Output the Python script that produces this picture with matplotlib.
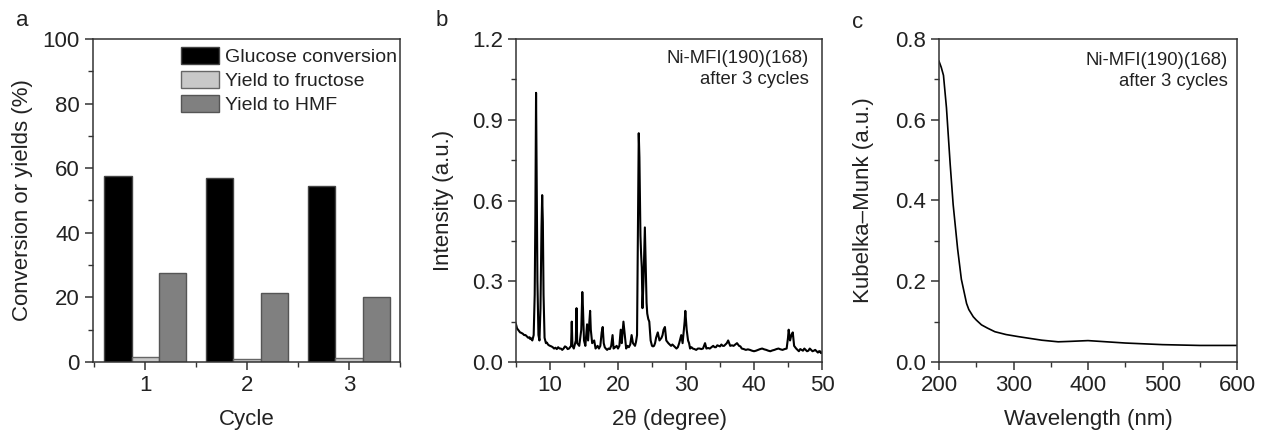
import matplotlib
matplotlib.use("Agg")
import matplotlib.pyplot as plt
from matplotlib.ticker import MultipleLocator, FormatStrFormatter

plt.rcParams['font.family'] = ['Liberation Sans', 'DejaVu Sans']

# panel a: catalyst recycling
cycles = [1, 2, 3]
glucose_conv = [57.7, 57.1, 54.6]
fructose_yield = [1.7, 0.9, 1.1]
hmf_yield = [27.7, 21.5, 20.0]

# panel b: XRD after 3 cycles
xrd_2theta = [5.0, 5.15, 5.3, 5.45, 5.6, 5.8, 6.0, 6.2, 6.4, 6.6, 6.8, 7.0, 7.1, 7.25, 7.4, 7.6,
              7.75, 7.85, 7.95, 8.05, 8.15, 8.3, 8.45, 8.6, 8.75, 8.85, 8.95, 9.05, 9.2, 9.4,
              9.55, 9.7, 9.85, 10.0, 10.2, 10.4, 10.6, 10.8, 11.0, 11.2, 11.4, 11.6, 11.8,
              12.0, 12.2, 12.4, 12.6, 12.8, 13.1, 13.2, 13.3, 13.5, 13.8, 13.9, 14.0, 14.3,
              14.6, 14.75, 14.85, 15.0, 15.2, 15.45, 15.6, 15.9, 16.0, 16.2, 16.5, 16.7, 16.85,
              17.0, 17.2, 17.4, 17.6, 17.75, 17.9, 18.05, 18.2, 18.4, 18.6, 18.8, 19.0, 19.2,
              19.35, 19.6, 19.8, 20.0, 20.2, 20.4, 20.55, 20.8, 21.0, 21.2, 21.4, 21.6, 21.8,
              22.0, 22.2, 22.35, 22.5, 22.65, 22.8, 22.95, 23.05, 23.15, 23.3, 23.4, 23.5,
              23.6, 23.75, 23.95, 24.1, 24.2, 24.3, 24.45, 24.6, 24.8, 25.0, 25.15, 25.3, 25.45,
              25.6, 25.85, 26.1, 26.25, 26.4, 26.55, 26.7, 26.9, 27.1, 27.25, 27.4, 27.6, 27.8,
              28.0, 28.2, 28.4, 28.6, 28.8, 29.0, 29.3, 29.5, 29.8, 29.9, 30.1, 30.3, 30.45,
              30.6, 30.8, 31.0, 31.25, 31.5, 31.75, 32.0, 32.25, 32.5, 32.8, 33.0, 33.25, 33.5,
              33.75, 34.0, 34.2, 34.4, 34.6, 34.8, 35.0, 35.2, 35.4, 35.6, 35.8, 36.0, 36.2,
              36.35, 36.5, 36.75, 37.0, 37.25, 37.5, 37.8, 38.0, 38.2, 38.5, 38.8, 39.1, 39.4,
              39.7, 40.0, 40.3, 40.6, 40.9, 41.2, 41.5, 41.8, 42.1, 42.4, 42.7, 43.0, 43.3,
              43.6, 43.9, 44.2, 44.5, 44.8, 45.0, 45.1, 45.3, 45.5, 45.7, 45.9, 46.05, 46.2,
              46.4, 46.6, 46.8, 47.0, 47.2, 47.4, 47.6, 47.8, 48.0, 48.2, 48.4, 48.6, 48.8,
              49.0, 49.2, 49.4, 49.55, 49.7, 49.85, 50.0]
xrd_int = [0.14, 0.125, 0.12, 0.115, 0.11, 0.108, 0.105, 0.10, 0.10, 0.095, 0.09, 0.092, 0.085, 0.088, 0.08, 0.10,
           0.25, 0.55, 1.00, 0.66, 0.30, 0.10, 0.08, 0.20, 0.50, 0.62, 0.52, 0.25, 0.09, 0.07,
           0.072, 0.065, 0.062, 0.06, 0.058, 0.055, 0.05, 0.053, 0.048, 0.055, 0.05, 0.05, 0.045,
           0.05, 0.058, 0.055, 0.048, 0.05, 0.06, 0.15, 0.06, 0.05, 0.08, 0.20, 0.07, 0.06,
           0.12, 0.26, 0.20, 0.08, 0.06, 0.14, 0.08, 0.19, 0.12, 0.07, 0.08, 0.05, 0.055,
           0.06, 0.05, 0.06, 0.11, 0.13, 0.07, 0.055, 0.05, 0.045, 0.05, 0.048, 0.06, 0.10,
           0.05, 0.055, 0.06, 0.05, 0.06, 0.12, 0.07, 0.15, 0.10, 0.05, 0.06, 0.055, 0.065,
           0.10, 0.07, 0.065, 0.06, 0.075, 0.10, 0.55, 0.85, 0.76, 0.47, 0.40, 0.35,
           0.20, 0.30, 0.50, 0.33, 0.22, 0.18, 0.16, 0.15, 0.08, 0.06, 0.058, 0.06, 0.07,
           0.09, 0.11, 0.08, 0.085, 0.09, 0.10, 0.12, 0.13, 0.08, 0.075, 0.07, 0.065, 0.06,
           0.065, 0.06, 0.055, 0.05, 0.055, 0.07, 0.10, 0.07, 0.15, 0.19, 0.12, 0.08, 0.07,
           0.05, 0.055, 0.05, 0.048, 0.045, 0.05, 0.05, 0.048, 0.05, 0.07, 0.05, 0.052, 0.05,
           0.055, 0.06, 0.055, 0.055, 0.062, 0.06, 0.058, 0.065, 0.06, 0.06, 0.065, 0.07, 0.08,
           0.07, 0.06, 0.062, 0.06, 0.065, 0.07, 0.06, 0.058, 0.05, 0.048, 0.045, 0.047, 0.045,
           0.042, 0.04, 0.042, 0.045, 0.048, 0.05, 0.047, 0.045, 0.042, 0.04, 0.043, 0.045, 0.048,
           0.05, 0.047, 0.045, 0.048, 0.05, 0.09, 0.12, 0.08, 0.10, 0.11, 0.06, 0.055, 0.05,
           0.045, 0.04, 0.048, 0.045, 0.042, 0.05, 0.045, 0.04, 0.042, 0.05, 0.045, 0.04, 0.042,
           0.045, 0.04, 0.035, 0.04, 0.04, 0.033, 0.035]

# panel c: UV-vis (Kubelka-Munk)
wavelength = [200, 203, 206, 210, 215, 219, 225, 230, 237, 240, 246, 250, 257, 265, 275,
              290, 306, 320, 338, 360, 375, 400, 425, 450, 500, 550, 600]
km = [0.745, 0.73, 0.71, 0.63, 0.49, 0.39, 0.28, 0.205, 0.145, 0.13, 0.112, 0.104, 0.092, 0.084, 0.075,
      0.068, 0.063, 0.059, 0.054, 0.050, 0.051, 0.053, 0.050, 0.047, 0.043, 0.041, 0.041]

label_text = "Ni-MFI(190)(168)\nafter 3 cycles"

txt = '#222222'
fs = 16
W, H = 1263, 436
fig = plt.figure(figsize=(W / 100, H / 100), dpi=100)

def add_ax(left_px, width_px):
    ax = fig.add_axes([left_px / W, (H - 362) / H, width_px / W, 323 / H])
    for s in ax.spines.values():
        s.set_linewidth(1.1)
        s.set_color('#333333')
    ax.tick_params(which='both', direction='out', labelsize=fs, colors='#333333', labelcolor=txt)
    ax.tick_params(which='major', length=6, width=1.1)
    ax.tick_params(which='minor', length=3.5, width=1.0)
    return ax

# ---- a ----
ax1 = add_ax(93, 307)
w = 0.265
ax1.bar([x - w for x in cycles], glucose_conv, w, color='black', edgecolor='#444444', lw=1,
        label='Glucose conversion')
ax1.bar(cycles, fructose_yield, w, color='#c8c8c8', edgecolor='#666666', lw=1,
        label='Yield to fructose')
ax1.bar([x + w for x in cycles], hmf_yield, w, color='#808080', edgecolor='#555555', lw=1,
        label='Yield to HMF')
ax1.set_xlim(0.49, 3.5)
ax1.set_ylim(0, 100)
ax1.set_xticks(cycles)
ax1.xaxis.set_minor_locator(MultipleLocator(0.5))
ax1.yaxis.set_major_locator(MultipleLocator(20))
ax1.yaxis.set_minor_locator(MultipleLocator(10))
ax1.set_xlabel('Cycle', fontsize=fs, color=txt)
ax1.set_ylabel('Conversion or yields (%)', fontsize=fs, color=txt)
leg = ax1.legend(loc='upper right', bbox_to_anchor=(0.99, 0.975), frameon=False,
                 fontsize=14, handlelength=1.95, handleheight=0.95, handletextpad=0.3,
                 labelspacing=0.25, borderpad=0, borderaxespad=0)
for t in leg.get_texts():
    t.set_color(txt)

# ---- b ----
ax2 = add_ax(516, 306)
ax2.plot(xrd_2theta, xrd_int, color='black', lw=1.5)
ax2.set_xlim(5, 50)
ax2.set_ylim(0, 1.2)
ax2.xaxis.set_major_locator(MultipleLocator(10))
ax2.xaxis.set_minor_locator(MultipleLocator(5))
ax2.yaxis.set_major_locator(MultipleLocator(0.3))
ax2.yaxis.set_minor_locator(MultipleLocator(0.15))
ax2.yaxis.set_major_formatter(FormatStrFormatter('%.1f'))
ax2.set_xlabel('2\u03b8 (degree)', fontsize=fs, color=txt)
ax2.set_ylabel('Intensity (a.u.)', fontsize=fs, color=txt)
ax2.text(0.957, 0.966, label_text, transform=ax2.transAxes, ha='right', va='top',
         fontsize=13.3, color=txt, linespacing=1.3)

# ---- c ----
ax3 = add_ax(939, 298)
ax3.plot(wavelength, km, color='black', lw=1.2)
ax3.set_xlim(200, 600)
ax3.set_ylim(0, 0.8)
ax3.xaxis.set_major_locator(MultipleLocator(100))
ax3.xaxis.set_minor_locator(MultipleLocator(50))
ax3.yaxis.set_major_locator(MultipleLocator(0.2))
ax3.yaxis.set_minor_locator(MultipleLocator(0.1))
ax3.yaxis.set_major_formatter(FormatStrFormatter('%.1f'))
ax3.set_xlabel('Wavelength (nm)', fontsize=fs, color=txt)
ax3.set_ylabel('Kubelka\u2013Munk (a.u.)', fontsize=fs, color=txt)
ax3.text(0.97, 0.96, label_text, transform=ax3.transAxes, ha='right', va='top',
         fontsize=13.3, color=txt, linespacing=1.3)

# label positions
for ax, ylx, left, width in [(ax1, 23, 93, 307), (ax2, 443, 516, 306), (ax3, 863, 939, 298)]:
    ax.yaxis.set_label_coords((ylx - left) / width, 0.5)
    ax.yaxis.label.set_va('center')
    ax.xaxis.set_label_coords(0.5, (362 - 419) / 323)
    ax.xaxis.label.set_va('center')

for s, x, y in [('a', 22, 20), ('b', 442, 20), ('c', 858, 22)]:
    fig.text(x / W, 1 - y / H, s, fontsize=16, color=txt, ha='center', va='center')

fig.savefig('out.png', dpi=100)
